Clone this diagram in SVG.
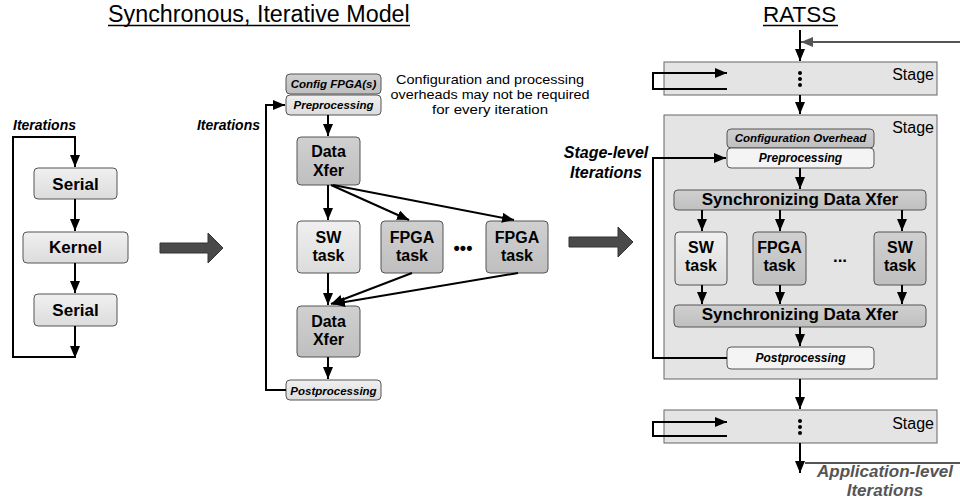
<svg xmlns="http://www.w3.org/2000/svg" width="960" height="501" viewBox="0 0 960 501">
<defs>
<marker id="ah" viewBox="0 0 12 10" refX="12" refY="5" markerWidth="12" markerHeight="10" markerUnits="userSpaceOnUse" orient="auto"><path d="M0,0 L12,5 L0,10 z" fill="#000"/></marker>
<marker id="ahg" viewBox="0 0 12 10" refX="12" refY="5" markerWidth="12" markerHeight="10" markerUnits="userSpaceOnUse" orient="auto"><path d="M0,0 L12,5 L0,10 z" fill="#555"/></marker>
<linearGradient id="gl" x1="0" y1="0" x2="0" y2="1"><stop offset="0" stop-color="#f0f0f0"/><stop offset="1" stop-color="#dcdcdc"/></linearGradient>
<linearGradient id="gd" x1="0" y1="0" x2="0" y2="1"><stop offset="0" stop-color="#d0d0d0"/><stop offset="1" stop-color="#bfbfbf"/></linearGradient>
</defs>
<style>
text{font-family:"Liberation Sans",Arial,Helvetica,sans-serif;fill:#000}
.title{font-size:23.3px}
.b{font-size:17px;font-weight:bold;text-anchor:middle}
.b2{font-size:16px;font-weight:bold;text-anchor:middle}
.s{font-size:11.5px;font-weight:bold;font-style:italic;text-anchor:middle}
.it{font-size:14px;font-weight:bold;font-style:italic}
.it16{font-size:16px;font-weight:bold;font-style:italic;text-anchor:middle}
.note{font-size:13px;text-anchor:middle}
.stg{font-size:16px;text-anchor:end}
.lt{fill:url(#gl);stroke:#555;stroke-width:1}
.dk{fill:url(#gd);stroke:#555;stroke-width:1}
.wh{fill:#f4f4f4;stroke:#555;stroke-width:1}
.stage{fill:#e4e4e4;stroke:#666;stroke-width:1}
.ca{fill:none;stroke:#000;stroke-width:2;marker-end:url(#ah)}
.big{fill:#4a4a4a;stroke:#333;stroke-width:1}
</style>

<!-- Titles -->
<g id="titles">
<text class="title" x="108" y="22">Synchronous, Iterative Model</text>
<line x1="108" y1="25.5" x2="410" y2="25.5" stroke="#000" stroke-width="1.5"/>
<text class="title" x="763" y="22" style="font-size:22.5px">RATSS</text>
<line x1="763" y1="25.5" x2="838" y2="25.5" stroke="#000" stroke-width="1.5"/>
</g>

<!-- Left model -->
<g id="left-iter-label"><text class="it" x="13" y="130">Iterations</text></g>
<g id="serial1"><rect class="lt" x="34" y="168" width="83" height="31" rx="4"/><text class="b" x="75.5" y="190">Serial</text></g>
<g id="kernel"><rect class="lt" x="23" y="232" width="105" height="31" rx="4"/><text class="b" x="75.5" y="253">Kernel</text></g>
<g id="serial2"><rect class="lt" x="34" y="294" width="83" height="32" rx="4"/><text class="b" x="75.5" y="316">Serial</text></g>

<!-- Big arrows -->
<g id="bigarrow1"><polygon class="big" points="160,243 208,243 208,233 223,248 208,263 208,253 160,253"/></g>
<g id="bigarrow2"><polygon class="big" points="569,237 618,237 618,227 633,242 618,257 618,247 569,247"/></g>

<!-- Middle model -->
<g id="mid-iter-label"><text class="it" x="260" y="130" text-anchor="end">Iterations</text></g>
<g id="config-fpga"><rect class="dk" x="286" y="74" width="95" height="20" rx="4"/><text class="s" x="333.5" y="88">Config FPGA(s)</text></g>
<g id="mid-pre"><rect class="lt" x="286" y="95" width="95" height="20" rx="4"/><text class="s" x="333.5" y="109">Preprocessing</text></g>
<g id="note"><text class="note"><tspan x="490" y="84" textLength="188" lengthAdjust="spacingAndGlyphs">Configuration and processing</tspan><tspan x="490" y="99" textLength="199" lengthAdjust="spacingAndGlyphs">overheads may not be required</tspan><tspan x="490" y="114" textLength="116" lengthAdjust="spacingAndGlyphs">for every iteration</tspan></text></g>
<g id="dataxfer1"><rect class="dk" x="297" y="137" width="63" height="48" rx="4"/><text class="b2"><tspan x="328.5" y="157">Data</tspan><tspan x="328.5" y="175.5">Xfer</tspan></text></g>
<g id="swtask-mid"><rect class="lt" x="297" y="221" width="63" height="52" rx="4"/><text class="b2"><tspan x="328.5" y="242.5">SW</tspan><tspan x="328.5" y="261">task</tspan></text></g>
<g id="fpgatask1"><rect class="dk" x="381" y="221" width="62" height="52" rx="4"/><text class="b2"><tspan x="412" y="242.5">FPGA</tspan><tspan x="412" y="261">task</tspan></text></g>
<g id="mid-dots"><text x="463" y="254" font-size="18" font-weight="bold" text-anchor="middle">•••</text></g>
<g id="fpgatask2"><rect class="dk" x="486" y="221" width="62" height="52" rx="4"/><text class="b2"><tspan x="517" y="242.5">FPGA</tspan><tspan x="517" y="261">task</tspan></text></g>
<g id="dataxfer2"><rect class="dk" x="297" y="306" width="63" height="51" rx="4"/><text class="b2"><tspan x="328.5" y="326.5">Data</tspan><tspan x="328.5" y="345">Xfer</tspan></text></g>
<g id="mid-post"><rect class="lt" x="286" y="380" width="95" height="20" rx="4"/><text class="s" x="333.5" y="395">Postprocessing</text></g>

<!-- Right model -->
<g id="stage1"><rect class="stage" x="664" y="62" width="273" height="33"/><text class="stg" x="934" y="80">Stage</text>
<circle cx="800" cy="73" r="2"/><circle cx="800" cy="79" r="2"/><circle cx="800" cy="85" r="2"/></g>
<g id="stage2"><rect class="stage" x="664" y="115" width="273" height="264"/><text class="stg" x="934" y="133">Stage</text></g>
<g id="stage-level-label"><text class="it16"><tspan x="606" y="158">Stage-level</tspan><tspan x="606" y="177.5">Iterations</tspan></text></g>
<g id="config-overhead"><rect class="dk" x="727" y="129" width="147" height="19" rx="4"/><text class="s" x="800.5" y="142">Configuration Overhead</text></g>
<g id="right-pre"><rect class="wh" x="727" y="148" width="147" height="20" rx="4"/><text class="s" x="800.5" y="162" style="font-size:12px">Preprocessing</text></g>
<g id="sync1"><rect class="dk" x="674" y="190" width="252" height="20" rx="4"/><text class="b" x="800" y="205">Synchronizing Data Xfer</text></g>
<g id="sw-r1"><rect class="lt" x="675" y="232" width="52" height="53" rx="4"/><text class="b2"><tspan x="701" y="252.5">SW</tspan><tspan x="701" y="271">task</tspan></text></g>
<g id="fpga-r"><rect class="dk" x="753" y="232" width="53" height="53" rx="4"/><text class="b2"><tspan x="779.5" y="252.5">FPGA</tspan><tspan x="779.5" y="271">task</tspan></text></g>
<g id="right-dots"><text x="840" y="262" font-size="17" font-weight="bold" text-anchor="middle">...</text></g>
<g id="sw-r2"><rect class="dk" x="874" y="232" width="52" height="53" rx="4"/><text class="b2"><tspan x="900" y="252.5">SW</tspan><tspan x="900" y="271">task</tspan></text></g>
<g id="sync2"><rect class="dk" x="674" y="305" width="252" height="22" rx="4"/><text class="b" x="800" y="320">Synchronizing Data Xfer</text></g>
<g id="right-post"><rect class="wh" x="727" y="347" width="147" height="22" rx="4"/><text class="s" x="800.5" y="362" style="font-size:12px">Postprocessing</text></g>
<g id="stage3"><rect class="stage" x="664" y="410" width="273" height="33"/><text class="stg" x="934" y="429">Stage</text>
<circle cx="800" cy="421" r="2"/><circle cx="800" cy="427" r="2"/><circle cx="800" cy="433" r="2"/></g>
<g id="app-level-label"><text class="it16" style="fill:#555;font-size:17px"><tspan x="885" y="476.5">Application-level</tspan><tspan x="885" y="496">Iterations</tspan></text></g>

<!-- Connectors -->
<g id="connectors">
<path class="ca" d="M75,357 H13 V137 H75 V167"/>
<line class="ca" x1="75" y1="199" x2="75" y2="231"/>
<line class="ca" x1="75" y1="263" x2="75" y2="293"/>
<line class="ca" x1="75" y1="326" x2="75" y2="358"/>
<path class="ca" d="M286,390 H266 V105 H285"/>
<line class="ca" x1="328" y1="115" x2="328" y2="136"/>
<line class="ca" x1="328" y1="185" x2="328" y2="220"/>
<line class="ca" x1="331" y1="185" x2="409" y2="220"/>
<line class="ca" x1="333" y1="185" x2="514" y2="220"/>
<line class="ca" x1="328" y1="273" x2="328" y2="305"/>
<line class="ca" x1="412" y1="273" x2="331" y2="304"/>
<line class="ca" x1="518" y1="273" x2="333" y2="304"/>
<line class="ca" x1="328" y1="357" x2="328" y2="379"/>
<line class="ca" x1="800" y1="30" x2="800" y2="61"/>
<line x1="960" y1="42" x2="801" y2="42" stroke="#555" stroke-width="2" marker-end="url(#ahg)"/>
<path class="ca" d="M727,89 H653 V73 H727"/>
<line class="ca" x1="800" y1="95" x2="800" y2="114"/>
<path class="ca" d="M727,358 H653 V158 H726"/>
<line class="ca" x1="800" y1="168" x2="800" y2="189"/>
<line class="ca" x1="702" y1="210" x2="702" y2="231"/>
<line class="ca" x1="780" y1="210" x2="780" y2="231"/>
<line class="ca" x1="902" y1="210" x2="902" y2="231"/>
<line class="ca" x1="702" y1="285" x2="702" y2="304"/>
<line class="ca" x1="780" y1="285" x2="780" y2="304"/>
<line class="ca" x1="902" y1="285" x2="902" y2="304"/>
<line class="ca" x1="800" y1="327" x2="800" y2="346"/>
<line class="ca" x1="800" y1="379" x2="800" y2="409"/>
<path class="ca" d="M727,436 H653 V422 H727"/>
<line class="ca" x1="800" y1="443" x2="800" y2="473"/>
<line x1="805" y1="463" x2="960" y2="463" stroke="#555" stroke-width="2"/>
</g>
</svg>
